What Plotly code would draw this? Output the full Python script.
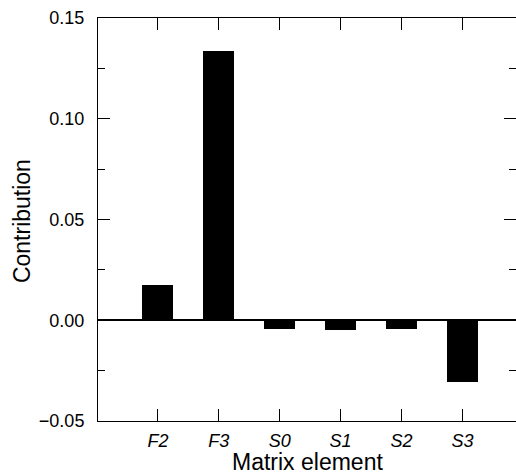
import plotly.graph_objects as go

categories = ["F2", "F3", "S0", "S1", "S2", "S3"]
contribution = [0.0173, 0.1338, -0.0045, -0.0048, -0.0042, -0.0305]
y_ticks = [-0.05, 0.00, 0.05, 0.10, 0.15]
y_ticklabels = ["−0.05", "0.00", "0.05", "0.10", "0.15"]
x_title = "Matrix element"
y_title = "Contribution"

FONT = "Liberation Sans, Arial, Helvetica, sans-serif"

fig = go.Figure()
fig.add_trace(go.Bar(
    x=list(range(len(categories))),
    y=contribution,
    width=0.51,
    marker=dict(color="black", line=dict(width=0)),
    showlegend=False,
))

fig.update_layout(
    width=516, height=474,
    margin=dict(l=98, r=0, t=18, b=53, autoexpand=False),
    paper_bgcolor="white", plot_bgcolor="white",
    font=dict(family=FONT, color="black"),
    bargap=0,
    annotations=[
        dict(text=x_title, xref="paper", yref="paper", x=0.5, y=0,
             xanchor="center", yanchor="middle", yshift=-41, showarrow=False,
             font=dict(size=23, family=FONT, color="black")),
        dict(text=y_title, xref="paper", yref="paper", x=0, y=0.496,
             xanchor="center", yanchor="middle", xshift=-76, textangle=-90,
             showarrow=False, font=dict(size=23, family=FONT, color="black")),
    ],
)

fig.update_xaxes(
    range=[-0.984, 5.88],
    tickmode="array",
    tickvals=list(range(len(categories))),
    ticktext=categories,
    tickfont=dict(size=18, style="italic", family=FONT),
    ticks="inside", ticklen=12, tickwidth=1, tickcolor="black",
    showline=True, linecolor="black", linewidth=1, mirror="allticks",
    showgrid=False, zeroline=False,
    ticklabelstandoff=3,
    automargin=False,
)

fig.update_yaxes(
    range=[-0.05, 0.15],
    tickmode="array",
    tickvals=y_ticks,
    ticktext=y_ticklabels,
    tickfont=dict(size=18, family=FONT),
    ticks="inside", ticklen=12, tickwidth=1, tickcolor="black",
    minor=dict(dtick=0.025, tick0=0, ticks="inside", ticklen=7, tickwidth=1, tickcolor="black", showgrid=False),
    showline=True, linecolor="black", linewidth=1, mirror="allticks",
    showgrid=False,
    zeroline=True, zerolinecolor="black", zerolinewidth=2,
    ticklabelstandoff=9,
    automargin=False,
)

fig.write_html(
    "out.html",
    config={"displayModeBar": False, "staticPlot": True},
    post_script="document.body.style.margin='0';document.body.style.overflow='hidden';",
)
